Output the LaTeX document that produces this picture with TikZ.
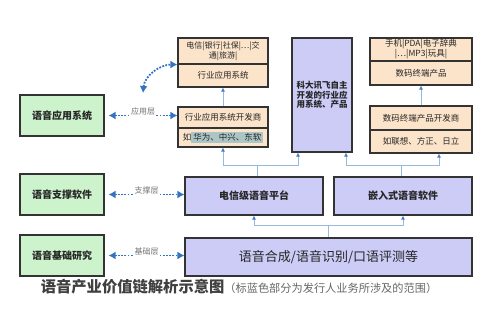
\documentclass[tikz,border=0pt]{standalone}
\usepackage{fontspec}
\setmainfont{Noto Sans CJK SC}
\usetikzlibrary{arrows.meta}

\definecolor{greenbox}{RGB}{204,243,204}
\definecolor{peachbox}{RGB}{252,228,202}
\definecolor{lilacbox}{RGB}{204,204,247}
\definecolor{boxline}{RGB}{51,51,51}
\definecolor{layerblue}{RGB}{52,116,190}
\definecolor{linkblue}{RGB}{150,186,222}
\definecolor{tipblue}{RGB}{70,125,190}
\definecolor{hlteal}{RGB}{172,198,198}

\begin{document}
\begin{tikzpicture}[x=1pt,y=-1pt,
  box/.style={draw=boxline,line width=1.1pt,inner sep=0pt,align=center,text=black!85},
  rolebox/.style={box,fill=greenbox,minimum width=84pt,minimum height=41pt,font=\fontsize{10}{12}\selectfont\bfseries},
  orgbox/.style={box,fill=peachbox,minimum width=90pt,font=\fontsize{8.5}{10}\selectfont},
  xfbox/.style={box,fill=lilacbox,minimum height=38pt,font=\fontsize{10}{12}\selectfont\bfseries},
  link/.style={draw=linkblue,line width=0.9pt,-{Latex[length=4pt,width=4pt,color=tipblue]}},
  layer/.style={draw=layerblue,line width=1.8pt,dash pattern=on 1.8pt off 1.4pt,{Latex[length=7pt,width=8pt]}-{Latex[length=7pt,width=8pt]}},
  layertag/.style={fill=white,inner sep=1pt,text=black!55,font=\fontsize{8}{9}\selectfont}]
\useasboundingbox (0,0) rectangle (500,310);

% left column: roles
\node[rolebox] (appl) at (62,115.5) {语音应用系统};
\node[rolebox] (supl) at (62,194.5) {语音支撑软件};
\node[rolebox] (basl) at (62,255.5) {语音基础研究};

% industry applications
\node[orgbox,minimum height=26pt,font=\fontsize{8}{10}\selectfont] (indus) at (223,51) {电信|银行|社保|…|交\\通|旅游|};
\node[orgbox,minimum height=23pt] (indsys) at (223,75.5) {行业应用系统};
\node[orgbox,minimum height=21pt] (inddev) at (223,117.5) {行业应用系统开发商};
\node[orgbox,minimum height=19pt] (indco) at (223,137.5) {如{\fboxsep=2pt\colorbox{hlteal}{华为、中兴、东软}}};

% iflytek own products
\node[xfbox,minimum width=60pt,minimum height=114pt,font=\fontsize{8.5}{9.5}\selectfont\bfseries] (iflytek) at (322,95) {科大讯飞自主\\开发的行业应\\用系统、产品};

% digital terminals
\node[orgbox,minimum width=102pt,minimum height=23pt] (digi) at (421,49.5) {手机|PDA|电子辞典\\|…|MP3|玩具|};
\node[orgbox,minimum width=102pt,minimum height=24pt] (digisys) at (421,73) {数码终端产品};
\node[orgbox,minimum width=102pt,minimum height=24pt] (digidev) at (421,118) {数码终端产品开发商};
\node[orgbox,minimum width=102pt,minimum height=23pt] (digico) at (421,141.5) {如联想、方正、日立};

% platforms and core
\node[xfbox,minimum width=138pt] (telecom) at (254,196) {电信级语音平台};
\node[xfbox,minimum width=138pt] (embed) at (403,196) {嵌入式语音软件};
\node[xfbox,minimum width=287pt,font=\fontsize{13}{15}\selectfont] (core) at (328.5,257) {语音合成/语音识别/口语评测等};

% value chain links
\draw[link] (inddev.north) -- (indsys.south);
\draw[link] (digidev.north) -- (digisys.south);

\coordinate (coresplit) at ([yshift=12pt]core.north);
\draw[link] (core.north) -- (coresplit) -| (telecom.south);
\draw[link] (coresplit) -| (embed.south);

\coordinate (telsplit) at ([xshift=3pt,yshift=11pt]telecom.north);
\draw[link] (telecom.north -| telsplit) -- (telsplit) -| (indco.south);
\draw[link] (telsplit) -| ([xshift=-24pt]iflytek.south);

\coordinate (embsplit) at ([xshift=-2pt,yshift=11pt]embed.north);
\draw[link] (embed.north -| embsplit) -- (embsplit) -| ([xshift=24pt]iflytek.south);
\draw[link] (embsplit) -| ([xshift=18pt]digico.south);

% layers
\draw[layer] ([xshift=4pt]appl.east) -- (appl.east -| inddev.west) node[layertag,midway,yshift=4pt] {应用层};
\coordinate (appturn) at (143,93);
\draw[layer] (appturn) to[out=85,in=180] (indus.south west);
\draw[layer] ([xshift=4pt]supl.east) -- (supl.east -| telecom.west) node[layertag,midway,yshift=4pt] {支撑层};
\draw[layer] ([xshift=4pt]basl.east) -- (basl.east -| core.west) node[layertag,midway,yshift=4pt] {基础层};

\node (caption) at (239,287) {{\fontsize{15.3}{16}\selectfont\bfseries\color{black!75}语音产业价值链解析示意图}{\fontsize{11.2}{12}\selectfont\color{black!60}（标蓝色部分为发行人业务所涉及的范围）}};
\end{tikzpicture}
\end{document}
